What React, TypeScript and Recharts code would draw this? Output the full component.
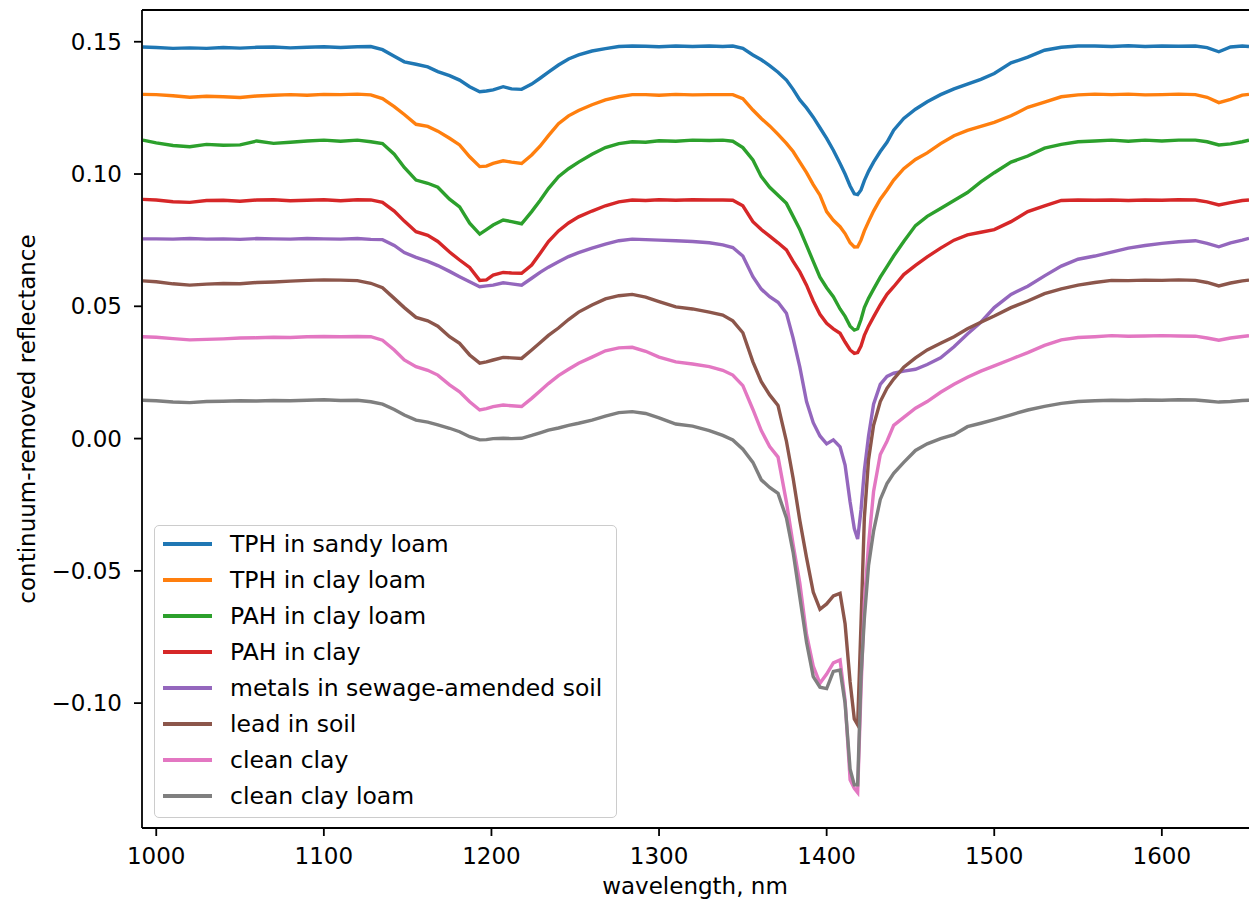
import React from 'react';
import { LineChart, Line, XAxis, YAxis, ReferenceLine } from 'recharts';

const wavelengths = [992, 1000, 1010, 1020, 1030, 1040, 1050, 1060, 1070, 1080, 1090, 1100, 1110, 1120, 1128, 1135, 1142, 1148, 1155, 1162, 1168, 1175, 1181, 1187, 1193, 1197, 1201, 1207, 1212, 1218, 1224, 1229, 1234, 1240, 1246, 1252, 1260, 1268, 1276, 1284, 1292, 1300, 1310, 1320, 1330, 1338, 1344, 1350, 1356, 1361, 1366, 1371, 1376, 1380, 1384, 1388, 1392, 1396, 1400, 1404, 1408, 1411, 1414, 1416.5, 1418.5, 1420.5, 1422.5, 1425, 1428, 1432, 1436, 1440, 1446, 1453, 1460, 1468, 1476, 1484, 1492, 1500, 1510, 1520, 1530, 1540, 1550, 1560, 1570, 1580, 1590, 1600, 1610, 1620, 1627, 1634, 1641, 1648, 1652];

const tphSandyLoam = [0.1480, 0.1478, 0.1475, 0.1477, 0.1475, 0.1478, 0.1476, 0.1479, 0.1480, 0.1477, 0.1479, 0.1481, 0.1478, 0.1481, 0.1482, 0.1470, 0.1445, 0.1424, 0.1415, 0.1405, 0.1387, 0.1372, 0.1355, 0.1330, 0.1311, 0.1314, 0.1318, 0.1330, 0.1322, 0.1320, 0.1340, 0.1362, 0.1385, 0.1412, 0.1435, 0.1450, 0.1465, 0.1474, 0.1482, 0.1484, 0.1483, 0.1481, 0.1484, 0.1482, 0.1484, 0.1482, 0.1484, 0.1475, 0.1450, 0.1432, 0.1410, 0.1385, 0.1355, 0.1320, 0.1280, 0.1250, 0.1215, 0.1175, 0.1135, 0.1090, 0.1040, 0.1000, 0.0955, 0.0925, 0.0922, 0.0940, 0.0975, 0.1010, 0.1045, 0.1085, 0.1120, 0.1166, 0.1210, 0.1245, 0.1273, 0.1300, 0.1322, 0.1340, 0.1358, 0.1380, 0.1420, 0.1442, 0.1468, 0.1479, 0.1484, 0.1484, 0.1482, 0.1485, 0.1482, 0.1484, 0.1483, 0.1484, 0.1478, 0.1462, 0.1480, 0.1484, 0.1482];

const tphClayLoam = [0.1301, 0.1300, 0.1296, 0.1290, 0.1294, 0.1292, 0.1289, 0.1295, 0.1298, 0.1300, 0.1298, 0.1301, 0.1300, 0.1302, 0.1299, 0.1285, 0.1255, 0.1225, 0.1188, 0.1180, 0.1162, 0.1135, 0.1110, 0.1065, 0.1028, 0.1030, 0.1040, 0.1050, 0.1045, 0.1040, 0.1072, 0.1105, 0.1145, 0.1190, 0.1220, 0.1240, 0.1262, 0.1280, 0.1292, 0.1300, 0.1300, 0.1298, 0.1301, 0.1299, 0.1300, 0.1300, 0.1300, 0.1285, 0.1242, 0.1210, 0.1182, 0.1150, 0.1116, 0.1085, 0.1045, 0.1005, 0.0960, 0.0920, 0.0858, 0.0825, 0.0801, 0.0775, 0.0740, 0.0724, 0.0725, 0.0750, 0.0785, 0.0820, 0.0860, 0.0905, 0.0940, 0.0977, 0.1020, 0.1055, 0.1080, 0.1115, 0.1145, 0.1165, 0.1180, 0.1195, 0.1220, 0.1252, 0.1272, 0.1292, 0.1299, 0.1302, 0.1300, 0.1302, 0.1299, 0.1300, 0.1302, 0.1300, 0.1290, 0.1270, 0.1282, 0.1298, 0.1301];

const pahClayLoam = [0.1128, 0.1118, 0.1108, 0.1103, 0.1112, 0.1109, 0.1110, 0.1125, 0.1116, 0.1120, 0.1125, 0.1128, 0.1124, 0.1128, 0.1122, 0.1115, 0.1075, 0.1025, 0.0977, 0.0965, 0.0950, 0.0905, 0.0876, 0.0814, 0.0773, 0.0790, 0.0807, 0.0826, 0.0820, 0.0812, 0.0858, 0.0900, 0.0945, 0.0990, 0.1020, 0.1045, 0.1075, 0.1100, 0.1115, 0.1122, 0.1120, 0.1126, 0.1124, 0.1128, 0.1127, 0.1128, 0.1124, 0.1100, 0.1053, 0.0990, 0.0950, 0.0920, 0.0889, 0.0840, 0.0790, 0.0730, 0.0670, 0.0610, 0.0570, 0.0536, 0.0490, 0.0462, 0.0425, 0.0410, 0.0415, 0.0450, 0.0495, 0.0530, 0.0565, 0.0610, 0.0650, 0.0690, 0.0745, 0.0805, 0.0840, 0.0870, 0.0900, 0.0930, 0.0970, 0.1005, 0.1045, 0.1068, 0.1098, 0.1112, 0.1122, 0.1125, 0.1128, 0.1124, 0.1128, 0.1125, 0.1128, 0.1128, 0.1122, 0.1110, 0.1114, 0.1122, 0.1128];

const pahClay = [0.0904, 0.0902, 0.0895, 0.0893, 0.0900, 0.0901, 0.0897, 0.0902, 0.0903, 0.0899, 0.0901, 0.0903, 0.0899, 0.0903, 0.0902, 0.0893, 0.0860, 0.0822, 0.0782, 0.0768, 0.0745, 0.0705, 0.0675, 0.0647, 0.0598, 0.0600, 0.0618, 0.0628, 0.0626, 0.0625, 0.0656, 0.0700, 0.0745, 0.0785, 0.0815, 0.0838, 0.0860, 0.0880, 0.0895, 0.0902, 0.0900, 0.0903, 0.0901, 0.0903, 0.0902, 0.0902, 0.0901, 0.0880, 0.0820, 0.0790, 0.0765, 0.0740, 0.0713, 0.0670, 0.0630, 0.0580, 0.0520, 0.0470, 0.0436, 0.0415, 0.0398, 0.0365, 0.0335, 0.0322, 0.0325, 0.0350, 0.0390, 0.0425, 0.0460, 0.0505, 0.0545, 0.0574, 0.0620, 0.0655, 0.0687, 0.0720, 0.0750, 0.0770, 0.0780, 0.0790, 0.0820, 0.0858, 0.0880, 0.0900, 0.0902, 0.0901, 0.0902, 0.0900, 0.0902, 0.0901, 0.0903, 0.0902, 0.0895, 0.0883, 0.0892, 0.0900, 0.0902];

const metalsSewageSoil = [0.0755, 0.0755, 0.0754, 0.0756, 0.0754, 0.0755, 0.0753, 0.0756, 0.0755, 0.0754, 0.0756, 0.0755, 0.0754, 0.0756, 0.0753, 0.0752, 0.0730, 0.0703, 0.0685, 0.0670, 0.0654, 0.0632, 0.0612, 0.0593, 0.0574, 0.0577, 0.0580, 0.0589, 0.0585, 0.0580, 0.0606, 0.0628, 0.0648, 0.0668, 0.0688, 0.0703, 0.0720, 0.0735, 0.0748, 0.0754, 0.0752, 0.0750, 0.0748, 0.0745, 0.0740, 0.0732, 0.0722, 0.0690, 0.0612, 0.0565, 0.0536, 0.0515, 0.0474, 0.0380, 0.0270, 0.0140, 0.0060, 0.0010, -0.0020, -0.0005, -0.0031, -0.0100, -0.0240, -0.0340, -0.0380, -0.0270, -0.0120, 0.0010, 0.0130, 0.0205, 0.0235, 0.0247, 0.0255, 0.0262, 0.0280, 0.0305, 0.0347, 0.0395, 0.0440, 0.0495, 0.0545, 0.0576, 0.0615, 0.0652, 0.0678, 0.0690, 0.0705, 0.0720, 0.0730, 0.0738, 0.0744, 0.0748, 0.0738, 0.0725, 0.0740, 0.0750, 0.0757];

const leadInSoil = [0.0596, 0.0593, 0.0585, 0.0580, 0.0584, 0.0586, 0.0585, 0.0590, 0.0592, 0.0595, 0.0598, 0.0600, 0.0599, 0.0597, 0.0587, 0.0570, 0.0530, 0.0495, 0.0458, 0.0445, 0.0425, 0.0385, 0.0360, 0.0316, 0.0285, 0.0290, 0.0297, 0.0307, 0.0305, 0.0303, 0.0335, 0.0362, 0.0390, 0.0418, 0.0450, 0.0478, 0.0505, 0.0528, 0.0540, 0.0545, 0.0535, 0.0518, 0.0498, 0.0490, 0.0478, 0.0467, 0.0445, 0.0400, 0.0290, 0.0215, 0.0165, 0.0125, -0.0010, -0.0150, -0.0310, -0.0450, -0.0580, -0.0645, -0.0625, -0.0595, -0.0585, -0.0700, -0.0920, -0.1060, -0.1082, -0.0700, -0.0300, -0.0080, 0.0050, 0.0140, 0.0190, 0.0225, 0.0270, 0.0305, 0.0335, 0.0360, 0.0385, 0.0415, 0.0440, 0.0463, 0.0495, 0.0520, 0.0548, 0.0566, 0.0580, 0.0590, 0.0598, 0.0597, 0.0599, 0.0598, 0.0600, 0.0598, 0.0590, 0.0577, 0.0588, 0.0596, 0.0599];

const cleanClay = [0.0385, 0.0383, 0.0378, 0.0373, 0.0375, 0.0377, 0.0380, 0.0381, 0.0383, 0.0382, 0.0385, 0.0386, 0.0385, 0.0386, 0.0385, 0.0372, 0.0335, 0.0297, 0.0272, 0.0258, 0.0240, 0.0203, 0.0177, 0.0139, 0.0108, 0.0113, 0.0121, 0.0127, 0.0124, 0.0121, 0.0152, 0.0180, 0.0208, 0.0238, 0.0262, 0.0285, 0.0308, 0.0332, 0.0343, 0.0345, 0.0330, 0.0308, 0.0290, 0.0282, 0.0272, 0.0258, 0.0240, 0.0200, 0.0110, 0.0030, -0.0030, -0.0070, -0.0240, -0.0400, -0.0547, -0.0740, -0.0860, -0.0925, -0.0890, -0.0848, -0.0837, -0.0990, -0.1290, -0.1322, -0.1338, -0.0950, -0.0620, -0.0400, -0.0200, -0.0060, -0.0010, 0.0050, 0.0080, 0.0115, 0.0140, 0.0175, 0.0205, 0.0232, 0.0255, 0.0275, 0.0300, 0.0325, 0.0352, 0.0373, 0.0382, 0.0385, 0.0389, 0.0387, 0.0388, 0.0389, 0.0388, 0.0387, 0.0380, 0.0372, 0.0380, 0.0386, 0.0389];

const cleanClayLoam = [0.0145, 0.0143, 0.0138, 0.0136, 0.0140, 0.0141, 0.0143, 0.0142, 0.0144, 0.0143, 0.0145, 0.0147, 0.0144, 0.0145, 0.0139, 0.0130, 0.0110, 0.0089, 0.0070, 0.0062, 0.0052, 0.0039, 0.0026, 0.0007, -0.0005, -0.0004, 0.0000, 0.0001, 0.0000, 0.0001, 0.0012, 0.0022, 0.0032, 0.0040, 0.0050, 0.0058, 0.0070, 0.0085, 0.0098, 0.0102, 0.0095, 0.0078, 0.0055, 0.0047, 0.0030, 0.0012, -0.0005, -0.0040, -0.0090, -0.0156, -0.0185, -0.0207, -0.0300, -0.0430, -0.0600, -0.0770, -0.0900, -0.0940, -0.0945, -0.0880, -0.0875, -0.1000, -0.1250, -0.1309, -0.1309, -0.0900, -0.0680, -0.0480, -0.0350, -0.0230, -0.0170, -0.0131, -0.0090, -0.0045, -0.0020, 0.0000, 0.0015, 0.0045, 0.0058, 0.0072, 0.0090, 0.0108, 0.0122, 0.0133, 0.0140, 0.0143, 0.0145, 0.0144, 0.0146, 0.0145, 0.0147, 0.0146, 0.0142, 0.0138, 0.0140, 0.0144, 0.0145];

const seriesNames = ['TPH in sandy loam', 'TPH in clay loam', 'PAH in clay loam', 'PAH in clay', 'metals in sewage-amended soil', 'lead in soil', 'clean clay', 'clean clay loam'];
const seriesValues = [tphSandyLoam, tphClayLoam, pahClayLoam, pahClay, metalsSewageSoil, leadInSoil, cleanClay, cleanClayLoam];
const seriesColors = ['#1f77b4', '#ff7f0e', '#2ca02c', '#d62728', '#9467bd', '#8c564b', '#e377c2', '#7f7f7f'];

const xTicks = [1000, 1100, 1200, 1300, 1400, 1500, 1600];
const yTicks = [-0.1, -0.05, 0, 0.05, 0.1, 0.15];

const X_DOMAIN: [number, number] = [991.5, 1652];
const Y_DOMAIN: [number, number] = [-0.1472, 0.162];

const data = wavelengths.map((wl, i) => {
  const row: Record<string, number> = { wl };
  seriesValues.forEach((vals, s) => {
    row['s' + s] = vals[i];
  });
  return row;
});

const FONT = 'DejaVu Sans, sans-serif';
const FS = 23;
const LEG_FS = 23.5;

const fmtY = (v: number) => {
  const s = Math.abs(v).toFixed(2);
  return v < -1e-9 ? '\u2212' + s : s;
};

export default function App() {
  return (
    <div style={{ position: 'absolute', left: 0, top: 0, width: 1249, height: 902, background: '#fff', overflow: 'hidden' }}>
      <LineChart width={1249} height={902} data={data} margin={{ top: 10, right: 0, bottom: 0, left: 0 }}>
        <XAxis
          dataKey="wl"
          type="number"
          domain={X_DOMAIN}
          ticks={xTicks}
          allowDataOverflow
          interval={0}
          height={74}
          tickSize={8}
          tickMargin={12}
          axisLine={{ stroke: '#000', strokeWidth: 1.8 }}
          tickLine={{ stroke: '#000', strokeWidth: 1.8 }}
          tick={{ fill: '#000', fontSize: FS, fontFamily: FONT }}
          label={{
            content: () => (
              <text x={695} y={894} textAnchor="middle" fontSize={FS} fontFamily={FONT} fill="#000">
                wavelength, nm
              </text>
            ),
          }}
        />
        <YAxis
          type="number"
          domain={Y_DOMAIN}
          ticks={yTicks}
          allowDataOverflow
          interval={0}
          width={142}
          tickSize={8}
          tickMargin={12}
          tickFormatter={fmtY}
          axisLine={{ stroke: '#000', strokeWidth: 1.8 }}
          tickLine={{ stroke: '#000', strokeWidth: 1.8 }}
          tick={{ fill: '#000', fontSize: FS, fontFamily: FONT }}
          label={{
            content: () => (
              <text x={0} y={0} transform="translate(35,419) rotate(-90)" textAnchor="middle" fontSize={FS} fontFamily={FONT} fill="#000">
                continuum-removed reflectance
              </text>
            ),
          }}
        />
        <ReferenceLine y={Y_DOMAIN[1]} stroke="#000" strokeWidth={1.8} />
        {seriesNames.map((name, s) => (
          <Line
            key={name}
            name={name}
            dataKey={'s' + s}
            type="linear"
            stroke={seriesColors[s]}
            strokeWidth={3.4}
            dot={false}
            activeDot={false}
            isAnimationActive={false}
          />
        ))}
      </LineChart>
      <div
        style={{
          position: 'absolute',
          left: 154,
          top: 525,
          width: 461,
          height: 291,
          border: '1.5px solid #cccccc',
          borderRadius: 5,
          background: 'rgba(255,255,255,0.8)',
          fontFamily: FONT,
          fontSize: LEG_FS,
          color: '#000',
        }}
      >
        {seriesNames.map((name, s) => (
          <div
            key={name}
            style={{ position: 'absolute', left: 0, top: s * 36, height: 36, display: 'flex', alignItems: 'center', whiteSpace: 'nowrap' }}
          >
            <div style={{ marginLeft: 8, width: 49, height: 3.4, background: seriesColors[s] }} />
            <span style={{ marginLeft: 18 }}>{name}</span>
          </div>
        ))}
      </div>
    </div>
  );
}
